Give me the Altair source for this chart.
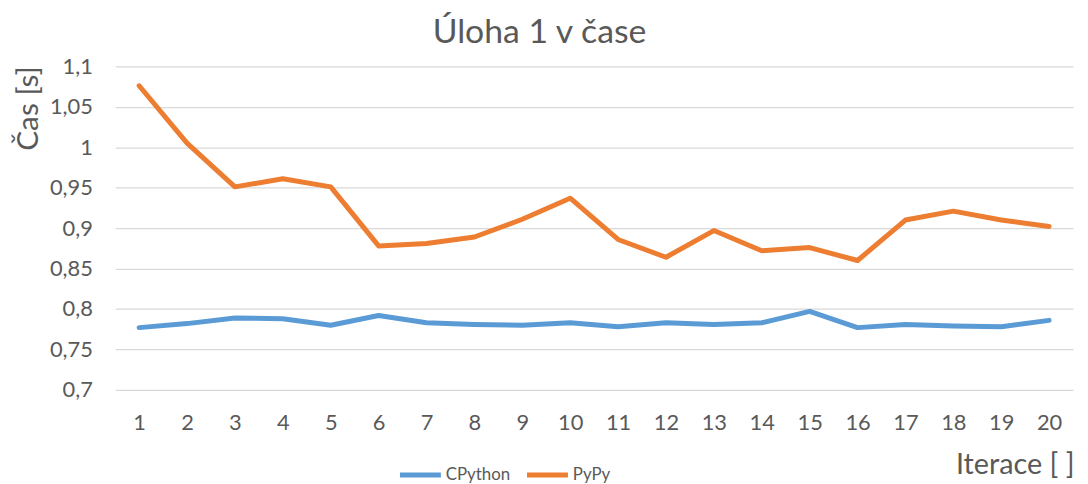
import altair as alt
import pandas as pd

iterations = list(range(1, 21))
cpython = [0.777, 0.782, 0.789, 0.788, 0.780, 0.792, 0.783, 0.781, 0.780, 0.783,
           0.778, 0.783, 0.781, 0.783, 0.797, 0.777, 0.781, 0.779, 0.778, 0.786]
pypy = [1.076, 1.005, 0.951, 0.961, 0.951, 0.878, 0.881, 0.889, 0.911, 0.937,
        0.886, 0.864, 0.897, 0.872, 0.876, 0.860, 0.910, 0.921, 0.910, 0.902]
series_names = ["CPython", "PyPy"]
series_colors = ["#5b9bd5", "#ed7d31"]
y_ticks = [0.7, 0.75, 0.8, 0.85, 0.9, 0.95, 1.0, 1.05, 1.1]

rows = []
for name, vals in zip(series_names, [cpython, pypy]):
    for it, v in zip(iterations, vals):
        rows.append({"Iterace": it, "Cas": v, "Serie": name})
df = pd.DataFrame(rows)

FONT = "Lato"
TXT = "#595959"

chart = alt.Chart(df).mark_line(
    strokeWidth=5, strokeCap="round", strokeJoin="round"
).encode(
    x=alt.X("Iterace:O", scale=alt.Scale(type="point", padding=0.5),
            axis=alt.Axis(title="Iterace [ ]", labelAngle=0, domain=False, ticks=False,
                          tickSize=0, labelPadding=33, labelBaseline="middle",
                          labelFontSize=22, labelColor=TXT, labelFont=FONT,
                          titleFont=FONT, titleFontSize=29, titleColor=TXT,
                          titleFontWeight="normal", titleAlign="right",
                          titleBaseline="alphabetic", titleX=966, titleY=84,
                          grid=False)),
    y=alt.Y("Cas:Q", scale=alt.Scale(domain=[0.7, 1.1], nice=False, zero=False),
            axis=alt.Axis(title="Čas [s]", values=y_ticks,
                          labelExpr="replace(format(datum.value, '.2~f'), '.', ',')",
                          domain=False, ticks=False, tickSize=0, labelPadding=23,
                          labelFontSize=22, labelColor=TXT, labelFont=FONT,
                          gridColor="#d9d9d9", gridWidth=1.3,
                          titleFont=FONT, titleFontSize=30, titleColor=TXT,
                          titleFontWeight="normal", titleAngle=270,
                          titleAlign="center", titleBaseline="alphabetic",
                          titleX=-78, titleY=42)),
    color=alt.Color("Serie:N", scale=alt.Scale(domain=series_names, range=series_colors),
                    legend=alt.Legend(title=None, orient="none", direction="horizontal",
                                      legendX=284, legendY=388,
                                      symbolType="stroke", symbolSize=1700,
                                      symbolStrokeWidth=5, labelFontSize=17,
                                      labelFont=FONT, labelColor=TXT,
                                      labelOffset=2, columnPadding=5)),
).properties(
    width=965,
    height=326,
    title=alt.TitleParams("Úloha 1 v čase", font=FONT, fontSize=34, color=TXT,
                          fontWeight="normal", anchor="middle", dx=-55, offset=6),
    autosize=alt.AutoSizeParams(type="none"),
    padding={"left": 108, "top": 57, "right": 7, "bottom": 93},
).configure_view(stroke=None)

chart.save("out.html", embed_options={"renderer": "svg", "actions": False})
